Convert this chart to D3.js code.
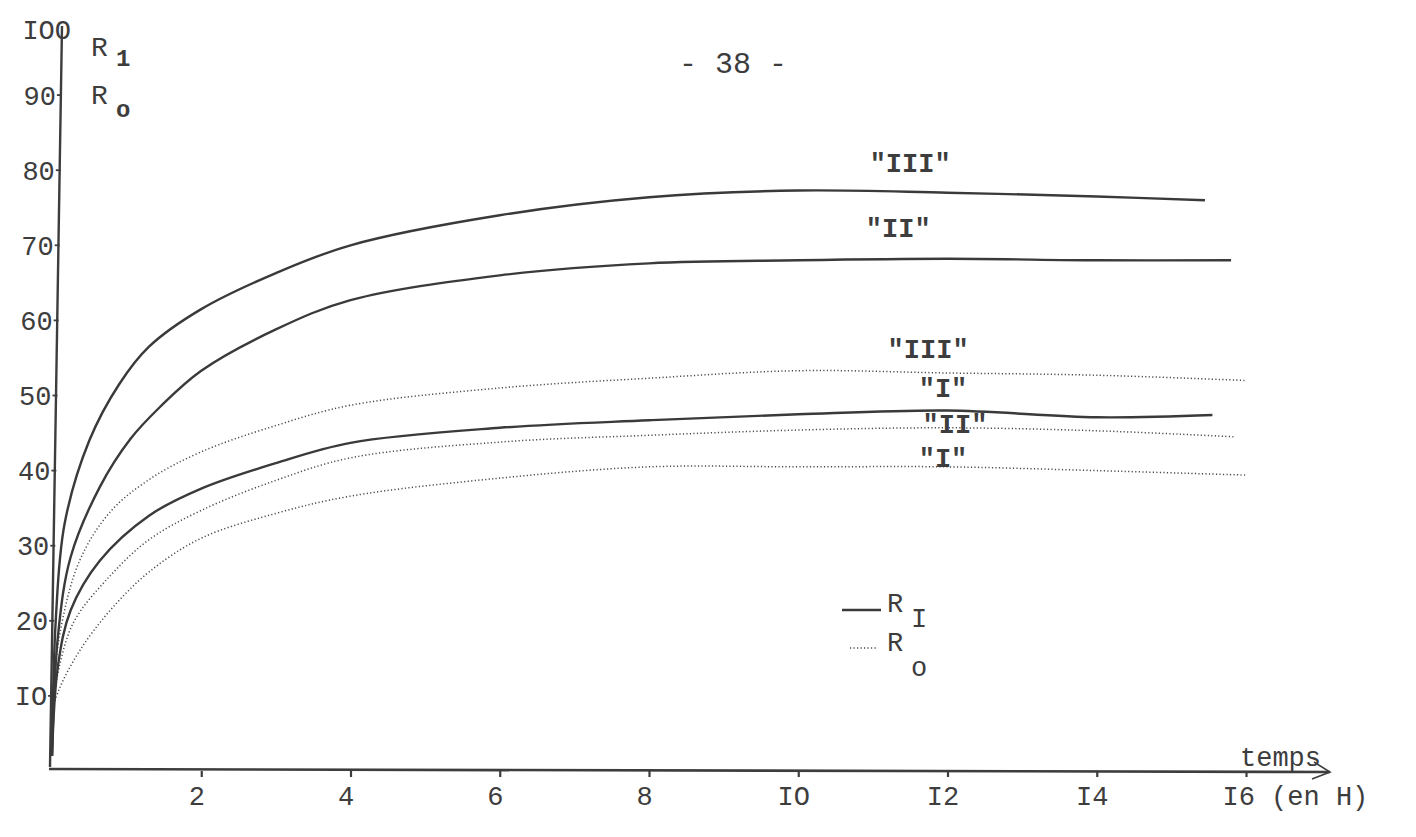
<!DOCTYPE html>
<html><head><meta charset="utf-8">
<script src="https://cdn.jsdelivr.net/npm/d3@7"></script>
<style>
html,body{margin:0;padding:0;background:#fff;}
svg{display:block;}
text{font-family:"Liberation Mono","DejaVu Sans Mono",monospace;fill:#3d3d3d;}
</style></head>
<body>
<svg id="chart" width="1416" height="837"></svg>
<script>
// ---- data ----
const xTicks = [2, 4, 6, 8, 10, 12, 14, 16];
const xTickLabels = ["2", "4", "6", "8", "IO", "I2", "I4", "I6 (en H)"];
const yTicks = [10, 20, 30, 40, 50, 60, 70, 80, 90, 100];
const yTickLabels = ["IO", "20", "30", "40", "50", "60", "70", "80", "90", "IOO"];

// R1 (solid) series
const r1_III_t = [0, 0.05, 0.17, 0.5, 0.9, 1.3, 2, 3, 4, 6, 8, 10, 12, 14, 15.45];
const r1_III_v = [2, 20, 33, 44, 51.5, 56.5, 61.5, 66.3, 70, 74, 76.4, 77.3, 77, 76.5, 76];
const r1_II_t  = [0, 0.08, 0.25, 0.64, 1.05, 1.45, 2, 3, 4, 6, 8, 10, 12, 14, 15.8];
const r1_II_v  = [2, 18, 28.5, 37.8, 44.2, 48.5, 53.3, 58.8, 62.7, 66, 67.6, 68, 68.2, 68, 68];
const r1_I_t   = [0, 0.08, 0.25, 0.64, 1.3, 2, 3, 4, 6, 8, 10, 12, 14, 15.55];
const r1_I_v   = [2, 14, 21.4, 28, 34, 37.6, 41, 43.7, 45.7, 46.7, 47.5, 48, 47.1, 47.4];
// R0 (dotted) series
const r0_III_t = [0, 0.1, 0.37, 0.78, 1.3, 2, 3, 4, 6, 8, 10, 12, 14, 16];
const r0_III_v = [8, 18, 28, 34.5, 38.8, 42.5, 46, 48.7, 51, 52.3, 53.3, 53, 52.7, 52];
const r0_II_t  = [0, 0.1, 0.3, 0.78, 1.3, 2, 3, 4, 6, 8, 10, 12, 14, 15.85];
const r0_II_v  = [8, 14, 20, 26, 30.8, 34.7, 38.7, 41.7, 43.8, 44.7, 45.4, 45.7, 45.3, 44.5];
const r0_I_t   = [0, 0.1, 0.37, 0.78, 1.3, 2, 3, 4, 6, 8, 10, 12, 14, 16];
const r0_I_v   = [8, 11, 16, 21.4, 26.5, 31, 34.3, 36.6, 39, 40.5, 40.5, 40.5, 40, 39.4];

// curve labels (text, anchor in data units: time, value)
const curveLabelText = ['"III"', '"II"', '"III"', '"I"', '"II"', '"I"'];
const curveLabelT    = [11.5, 11.34, 11.74, 11.94, 12.1, 11.94];
const curveLabelV    = [79.8, 71.1, 55, 49.8, 45, 40.5];

// ---- drawing ----
const svg = d3.select("#chart");
const x = d3.scaleLinear().domain([0, 16]).range([52, 1246]);
const y = d3.scaleLinear().domain([0, 100]).range([771, 20]);
const ink = "#3d3d3d";

// slanted y axis (typed sheet): x offset grows toward top
const slant = v => (v / 100) * 11;

// y axis line
svg.append("line")
  .attr("x1", x(0) - 2).attr("y1", y(0) - 4)
  .attr("x2", x(0) + slant(100) - 1).attr("y2", y(100) + 6)
  .attr("stroke", ink).attr("stroke-width", 2.4);

// y axis ticks/labels via d3 axis
const yAxis = d3.axisLeft(y).tickValues(yTicks)
  .tickSize(5).tickPadding(1)
  .tickFormat((d, i) => yTickLabels[i]);
const gy = svg.append("g").attr("transform", `translate(${x(0)},0)`).call(yAxis);
gy.select(".domain").remove();
gy.selectAll(".tick").attr("transform", d => `translate(${slant(d)},${y(d)})`);
gy.selectAll(".tick line").attr("stroke", ink).attr("stroke-width", 1.8);
gy.selectAll(".tick text").attr("font-size", 27).attr("fill", ink)
  .attr("font-family", '"Liberation Mono", monospace').attr("dy", "0.35em");
// the typed "IOO" sits slightly lower and overlaps the axis top
gy.selectAll(".tick").filter(d => d === 100).select("line").remove();
gy.selectAll(".tick").filter(d => d === 100).select("text")
  .attr("x", 8).attr("dy", "0.7em");

// x axis line with arrow
svg.append("path")
  .attr("d", `M${x(0) - 3},${y(0) - 2} L${x(16) + 84},${y(0) + 1}`)
  .attr("stroke", ink).attr("stroke-width", 2.6).attr("fill", "none");
svg.append("path")
  .attr("d", `M${x(16) + 68},${y(0) - 9} L${x(16) + 84},${y(0) + 1} L${x(16) + 66},${y(0) + 8}`)
  .attr("stroke", ink).attr("stroke-width", 1.6).attr("fill", "none");

const xAxis = d3.axisBottom(x).tickValues(xTicks)
  .tickSize(6).tickPadding(9)
  .tickFormat((d, i) => xTickLabels[i]);
const gx = svg.append("g").attr("transform", `translate(0,${y(0)})`).call(xAxis);
gx.select(".domain").remove();
gx.selectAll(".tick line").attr("stroke", ink).attr("stroke-width", 2.2);
gx.selectAll(".tick text").attr("font-size", 27).attr("fill", ink)
  .attr("font-family", '"Liberation Mono", monospace').attr("x", -5);
gx.selectAll(".tick text").filter(d => d === 16)
  .attr("text-anchor", "start").attr("x", -24);

svg.append("text").attr("x", x(16) - 6).attr("y", y(0) - 5)
  .attr("font-size", 27).text("temps");

// axis title R1 / R0
svg.append("text").attr("x", 91).attr("y", 56).attr("font-size", 28).text("R");
svg.append("text").attr("x", 116).attr("y", 66).attr("font-size", 24).attr("font-weight", "bold").text("1");
svg.append("text").attr("x", 91).attr("y", 104).attr("font-size", 28).text("R");
svg.append("text").attr("x", 116).attr("y", 117).attr("font-size", 24).attr("font-weight", "bold").text("o");

// page number
svg.append("text").attr("x", 733).attr("y", 73).attr("text-anchor", "middle")
  .attr("font-size", 30).text("- 38 -");

// series
const line = d3.line().x(d => x(d[0])).y(d => y(d[1])).curve(d3.curveCatmullRom.alpha(0.5));
const zip = (t, v) => t.map((tt, i) => [tt, v[i]]);
const solidSeries = [zip(r1_III_t, r1_III_v), zip(r1_II_t, r1_II_v), zip(r1_I_t, r1_I_v)];
const dottedSeries = [zip(r0_III_t, r0_III_v), zip(r0_II_t, r0_II_v), zip(r0_I_t, r0_I_v)];

svg.append("g").selectAll("path").data(dottedSeries).join("path")
  .attr("d", line).attr("fill", "none").attr("stroke", "#4a4a4a")
  .attr("stroke-width", 1.5).attr("stroke-dasharray", "1.2,2.3");
svg.append("g").selectAll("path").data(solidSeries).join("path")
  .attr("d", line).attr("fill", "none").attr("stroke", "#3a3a3a")
  .attr("stroke-width", 2.4);

// curve labels
svg.append("g").selectAll("text").data(curveLabelText).join("text")
  .attr("x", (d, i) => x(curveLabelT[i]))
  .attr("y", (d, i) => y(curveLabelV[i]))
  .attr("text-anchor", "middle").attr("font-size", 27)
  .attr("font-weight", "bold")
  .text(d => d);

// legend
svg.append("line").attr("x1", 842).attr("x2", 881).attr("y1", 610).attr("y2", 610)
  .attr("stroke", "#3a3a3a").attr("stroke-width", 2.4);
svg.append("text").attr("x", 887).attr("y", 612).attr("font-size", 27).text("R");
svg.append("text").attr("x", 911).attr("y", 627).attr("font-size", 27).text("I");
svg.append("line").attr("x1", 850).attr("x2", 878).attr("y1", 648).attr("y2", 648)
  .attr("stroke", "#4a4a4a").attr("stroke-width", 1.5).attr("stroke-dasharray", "1.2,2.3");
svg.append("text").attr("x", 887).attr("y", 651).attr("font-size", 27).text("R");
svg.append("text").attr("x", 911).attr("y", 676).attr("font-size", 27).text("o");
</script>
</body></html>
